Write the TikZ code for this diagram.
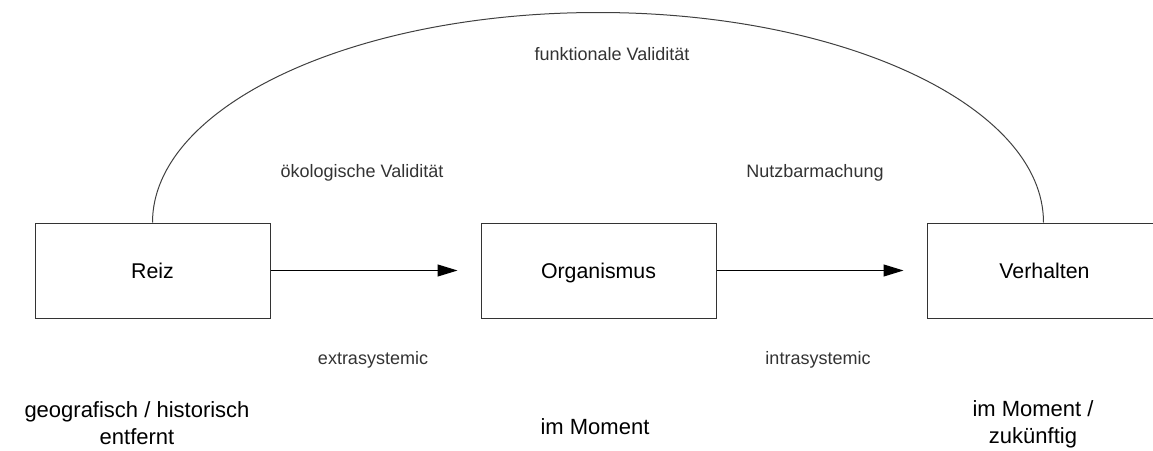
\documentclass[tikz,border=0pt]{standalone}
\usepackage{fontspec}
\setmainfont{Liberation Sans}
\usetikzlibrary{arrows.meta, positioning}

\begin{document}
\begin{tikzpicture}[
    x=0.75pt, y=-0.75pt,
    >={Triangle[length=15pt, width=9pt]},
    every node/.style={font=\fontsize{16}{19}\selectfont},
    box/.style  ={draw=black!80, line width=0.75pt, minimum width=176.25pt,
                  minimum height=71.25pt, text height=11.5pt, text depth=0pt,
                  inner sep=0pt},
    lbl/.style  ={font=\fontsize{13.5}{16}\selectfont, text=black!80,
                  anchor=base, inner sep=0pt},
    place/.style={font=\fontsize{16.5}{20}\selectfont, align=center,
                  inner sep=0pt},
    flow/.style ={->, line width=0.75pt, shorten >=17.25pt},
    valid/.style={line width=0.75pt, black!75},
]
\useasboundingbox (0,0) rectangle (1153,450);
\clip (0,0) rectangle (1153,450);
\node[box] (reiz) at (152.5,270.5) {Reiz};
\node[box, right=157.5pt of reiz] (org)  {Organismus};
\node[box, right=157.5pt of org]  (verh) {Verhalten};
\draw[flow] (reiz) -- (org);
\draw[flow] (org)  -- (verh);
% big arc over the three boxes
\draw[valid] (reiz.north) arc[start angle=180, end angle=0,
             x radius=334.125pt, y radius=157.5pt];
\node[lbl] (funk) at (612,60)  {funktionale Validität};
\node[lbl] (oeko) at (362,177) {ökologische Validität};
\node[lbl] (nutz) at (815,177) {Nutzbarmachung};
\node[lbl] (extra) at (373,364) {extrasystemic};
\node[lbl] (intra) at (818,364) {intrasystemic};
\node[place] (geo)  at (137,423) {geografisch / historisch\\entfernt};
\node[place] (mom)  at (595,427) {im Moment};
\node[place] (zuk)  at (1033,424) {im Moment /\\zukünftig};
\end{tikzpicture}
\end{document}
